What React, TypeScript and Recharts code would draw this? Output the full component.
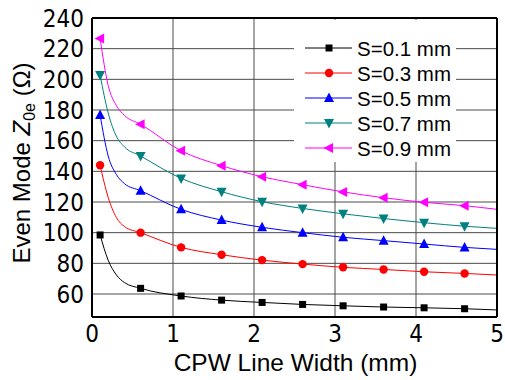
import React from 'react';
import { LineChart, Line, XAxis, YAxis, CartesianGrid } from 'recharts';

// CPW line width (mm): curve points, markers sit at every 0.5 mm from 0.1
const widths = [0.1, 0.2, 0.3, 0.4, 0.6, 1.1, 1.6, 2.1, 2.6, 3.1, 3.6, 4.1, 4.6, 5.0];
const markerWidths = [0.1, 0.6, 1.1, 1.6, 2.1, 2.6, 3.1, 3.6, 4.1, 4.6];

// even mode Z0e (ohm) for each gap S
const s01 = [98.5, 82, 72.5, 67.5, 63.7, 58.7, 56, 54.5, 53.2, 52.3, 51.5, 51, 50.4, 49.6];
const s03 = [144, 123, 110, 104, 100, 90.4, 85.6, 82.1, 79.5, 77.4, 76, 74.5, 73.4, 72.4];
const s05 = [176.7, 150, 138, 132, 127.4, 115.2, 108.2, 103.5, 100, 97, 94.8, 92.6, 90.4, 89.1];
const s07 = [202.8, 178, 163, 156, 150, 135.4, 126.7, 120.2, 115.8, 112.3, 109.2, 106.5, 104.2, 102.8];
const s09 = [226.7, 196, 183, 176.5, 170.7, 153.4, 143.7, 136.5, 131.3, 126.6, 122.8, 119.8, 117.6, 115.2];

const seriesNames = ['S=0.1 mm', 'S=0.3 mm', 'S=0.5 mm', 'S=0.7 mm', 'S=0.9 mm'];
const seriesColors = ['#000000', '#ff0000', '#0000ff', '#008080', '#ff00ff'];
const seriesShapes = ['square', 'circle', 'up', 'down', 'left'];
const seriesValues = [s01, s03, s05, s07, s09];

const xTicks = [0, 1, 2, 3, 4, 5];
const xMinorTicks = [0.5, 1.5, 2.5, 3.5, 4.5];
const yTicks = [60, 80, 100, 120, 140, 160, 180, 200, 220, 240];
const yMinorTicks = [50, 70, 90, 110, 130, 150, 170, 190, 210, 230];

const data = widths.map((w, i) => {
  const row: any = { w };
  seriesValues.forEach((vals, k) => {
    row[`s${k}`] = vals[i];
  });
  return row;
});

const FONT = "'Liberation Sans', Arial, sans-serif";
const NARROW = "'Liberation Sans Narrow', 'Arial Narrow', 'DejaVu Sans Condensed', sans-serif";

const Marker = ({ shape, cx, cy, color }: any) => {
  switch (shape) {
    case 'square':
      return <rect x={cx - 3.5} y={cy - 3.5} width={7} height={7} fill={color} />;
    case 'circle':
      return <circle cx={cx} cy={cy} r={4.2} fill={color} />;
    case 'up':
      return <polygon points={`${cx},${cy - 5.5} ${cx + 5},${cy + 4} ${cx - 5},${cy + 4}`} fill={color} />;
    case 'down':
      return <polygon points={`${cx - 5},${cy - 4} ${cx + 5},${cy - 4} ${cx},${cy + 5.5}`} fill={color} />;
    default:
      return <polygon points={`${cx - 5.5},${cy} ${cx + 4},${cy - 5} ${cx + 4},${cy + 5}`} fill={color} />;
  }
};

const makeDot = (k: number) => (props: any) => {
  const { cx, cy, payload, index } = props;
  if (!markerWidths.includes(payload.w)) return <g key={`d${k}-${index}`} />;
  return (
    <g key={`d${k}-${index}`}>
      <Marker shape={seriesShapes[k]} cx={cx} cy={cy} color={seriesColors[k]} />
    </g>
  );
};

const XTitle = (props: any) => {
  const { viewBox } = props;
  const cx = viewBox.x + viewBox.width / 2;
  return (
    <text x={cx + 1} y={371} textAnchor="middle" fontSize={24.5} fontFamily={FONT} fill="#000">
      CPW Line Width (mm)
    </text>
  );
};

const YTitle = () => {
  const x = 30;
  const y = 163;
  return (
    <text x={x} y={y} transform={`rotate(-90 ${x} ${y})`} textAnchor="middle" fontSize={24} fontFamily={FONT} fill="#000">
      Even Mode <tspan fontStyle="italic">Z</tspan>
      <tspan fontSize={16} dy={5}>0e</tspan>
      <tspan dy={-5}> (Ω)</tspan>
    </text>
  );
};

const LegendBox = () => (
  <svg width={505} height={380} style={{ position: 'absolute', left: 0, top: 0, pointerEvents: 'none' }}>
    <rect x={294} y={20} width={162} height={142} fill="#ffffff" />
    {seriesNames.map((name, k) => {
      const cy = 48 + k * 25;
      return (
        <g key={name}>
          <line x1={305} x2={352} y1={cy} y2={cy} stroke={seriesColors[k]} strokeWidth={1} />
          <Marker shape={seriesShapes[k]} cx={329} cy={cy} color={seriesColors[k]} />
          <text x={357} y={cy + 7.5} fontSize={20.5} fontFamily={FONT} fill="#000">
            {name}
          </text>
        </g>
      );
    })}
  </svg>
);

export default function App() {
  const tickStroke = { stroke: '#000', strokeWidth: 1.5 };
  const frame = { stroke: '#000', strokeWidth: 2 };
  return (
    <div style={{ position: 'absolute', left: 0, top: 0, width: 505, height: 380, background: '#fff' }}>
      <LineChart width={505} height={380} data={data} margin={{ top: 18, right: 8, bottom: 0, left: 0 }}>
        <CartesianGrid xAxisId="x" yAxisId="y" stroke="#4a4a4a" strokeWidth={1} />
        <XAxis
          xAxisId="x"
          dataKey="w"
          type="number"
          domain={[0, 5]}
          ticks={xTicks}
          interval={0}
          allowDataOverflow
          height={63}
          tickLine={false}
          tickSize={6}
          tickMargin={2}
          axisLine={frame}
          tick={{ fontSize: 24, fontFamily: NARROW, fill: '#000' }}
          label={<XTitle />}
        />
        <XAxis xAxisId="xb" dataKey="w" type="number" domain={[0, 5]} ticks={xTicks} interval={0} mirror tick={false} axisLine={false} tickSize={7} tickLine={tickStroke} />
        <XAxis xAxisId="xbm" dataKey="w" type="number" domain={[0, 5]} ticks={xMinorTicks} interval={0} mirror tick={false} axisLine={false} tickSize={4} tickLine={tickStroke} />
        <XAxis xAxisId="xt" orientation="top" dataKey="w" type="number" domain={[0, 5]} ticks={xTicks} interval={0} mirror tick={false} axisLine={frame} tickSize={7} tickLine={tickStroke} />
        <XAxis xAxisId="xtm" orientation="top" dataKey="w" type="number" domain={[0, 5]} ticks={xMinorTicks} interval={0} mirror tick={false} axisLine={false} tickSize={4} tickLine={tickStroke} />
        <YAxis
          yAxisId="y"
          type="number"
          domain={[45, 240]}
          ticks={yTicks}
          interval={0}
          allowDataOverflow
          width={92}
          tickLine={false}
          tickSize={6}
          tickMargin={2}
          axisLine={frame}
          tick={{ fontSize: 24, fontFamily: NARROW, fill: '#000' }}
          label={<YTitle />}
        />
        <YAxis yAxisId="yl" type="number" domain={[45, 240]} ticks={yTicks} interval={0} mirror tick={false} axisLine={false} tickSize={7} tickLine={tickStroke} />
        <YAxis yAxisId="ylm" type="number" domain={[45, 240]} ticks={yMinorTicks} interval={0} mirror tick={false} axisLine={false} tickSize={4} tickLine={tickStroke} />
        <YAxis yAxisId="yr" orientation="right" type="number" domain={[45, 240]} ticks={yTicks} interval={0} mirror tick={false} axisLine={frame} tickSize={7} tickLine={tickStroke} />
        <YAxis yAxisId="yrm" orientation="right" type="number" domain={[45, 240]} ticks={yMinorTicks} interval={0} mirror tick={false} axisLine={false} tickSize={4} tickLine={tickStroke} />
        {seriesNames.map((name, k) => (
          <Line
            key={name}
            xAxisId="x"
            yAxisId="y"
            name={name}
            dataKey={`s${k}`}
            type="monotone"
            stroke={seriesColors[k]}
            strokeWidth={1}
            dot={makeDot(k)}
            activeDot={false}
            isAnimationActive={false}
          />
        ))}
      </LineChart>
      <LegendBox />
    </div>
  );
}
